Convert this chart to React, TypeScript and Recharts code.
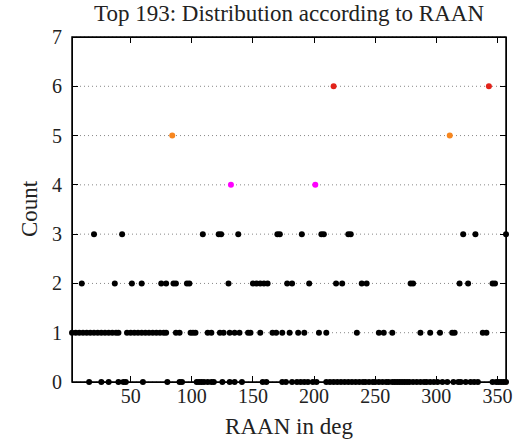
import React from 'react';
import { ScatterChart, Scatter, XAxis, YAxis, CartesianGrid, ReferenceArea } from 'recharts';

// RAAN (deg) of each satellite, grouped by its count value
const count0 = [
  16, 26, 32, 40, 44, 46, 60, 80, 90, 92, 104, 106, 108, 110, 113, 116, 118, 125, 131, 135,
  141, 158, 161, 174, 177, 182, 186, 189, 192, 195, 199, 202, 210, 213, 216, 219, 222, 225,
  228, 231, 234, 237, 240, 242, 245, 248, 250, 253, 256, 259, 261, 264, 266, 268, 270, 272,
  274, 276, 278, 281, 284, 287, 290, 292, 295, 298, 301, 305, 309, 314, 318, 320, 324, 328,
  331, 334, 346, 349, 351, 353, 355, 357,
];
const count1 = [
  2, 5, 8, 11, 14, 17, 20, 23, 26, 29, 32, 35, 38, 40, 47, 50, 53, 56, 59, 62, 65, 68, 71,
  74, 77, 79, 87, 90, 99, 101, 103, 113, 116, 123, 126, 131, 135, 139, 146, 148, 156, 166,
  169, 174, 180, 187, 192, 204, 210, 235, 253, 257, 264, 287, 295, 303, 313, 315, 338, 341,
];
const count2 = [
  10, 37, 51, 59, 75, 79, 85, 87, 96, 98, 130, 150, 153, 156, 159, 162, 178, 182, 196, 218,
  223, 239, 243, 279, 281, 319, 326, 346, 348,
];
const count3 = [20, 43, 109, 122, 124, 138, 170, 172, 190, 206, 208, 228, 230, 322, 332, 357];
const count4 = [132, 201];
const count5 = [84, 311];
const count6 = [216, 343];

const xTicks = [50, 100, 150, 200, 250, 300, 350];
const yTicks = [0, 1, 2, 3, 4, 5, 6, 7];

const toPoints = (xs: number[], c: number) => xs.map((raan) => ({ raan, count: c }));

const black = [
  ...toPoints(count0, 0),
  ...toPoints(count1, 1),
  ...toPoints(count2, 2),
  ...toPoints(count3, 3),
];

const FONT = '"Liberation Serif", "Times New Roman", serif';
const TXT = '#222';
const PLOT_LEFT = 72;
const PLOT_TOP = 37;
const PLOT_RIGHT = 506;
const PLOT_BOTTOM = 382;
const TICK = 6;

// inward ticks on bottom + top edge, label below
const BottomTick = (p: any) => (
  <g>
    <line x1={p.x} x2={p.x} y1={p.y} y2={p.y - TICK} stroke="#000" strokeWidth={1} shapeRendering="crispEdges" />
    <line x1={p.x} x2={p.x} y1={PLOT_TOP} y2={PLOT_TOP + TICK} stroke="#000" strokeWidth={1} shapeRendering="crispEdges" />
    <text x={p.x} y={p.y + 21} textAnchor="middle" fontFamily={FONT} fontSize={20} fill={TXT}>
      {p.payload.value}
    </text>
  </g>
);

// inward ticks on left + right edge, label to the left
const LeftTick = (p: any) => (
  <g>
    <line x1={p.x} x2={p.x + TICK} y1={p.y} y2={p.y} stroke="#000" strokeWidth={1} shapeRendering="crispEdges" />
    <line x1={PLOT_RIGHT} x2={PLOT_RIGHT - TICK} y1={p.y} y2={p.y} stroke="#000" strokeWidth={1} shapeRendering="crispEdges" />
    <text x={p.x - 10} y={p.y + 7} textAnchor="end" fontFamily={FONT} fontSize={20} fill={TXT}>
      {p.payload.value}
    </text>
  </g>
);

const dot = (color: string) => (props: any) => (
  <circle cx={props.cx} cy={props.cy} r={3} fill={color} />
);

const App: React.FC = () => {
  return (
    <div style={{ position: 'relative', width: 528, height: 441, background: '#fff' }}>
      <style>{'body{margin:0}'}</style>
      <div
        style={{
          position: 'absolute',
          top: 0,
          left: PLOT_LEFT,
          width: PLOT_RIGHT - PLOT_LEFT,
          textAlign: 'center',
          fontFamily: FONT,
          fontSize: 23,
          color: TXT,
          lineHeight: '28px',
          whiteSpace: 'nowrap',
        }}
      >
        Top 193: Distribution according to RAAN
      </div>
      <div
        style={{
          position: 'absolute',
          left: 30,
          top: 209,
          transform: 'translate(-50%, -50%) rotate(-90deg)',
          fontFamily: FONT,
          fontSize: 23,
          color: TXT,
          whiteSpace: 'nowrap',
        }}
      >
        Count
      </div>
      <div
        style={{
          position: 'absolute',
          left: PLOT_LEFT,
          width: PLOT_RIGHT - PLOT_LEFT,
          top: 413,
          textAlign: 'center',
          fontFamily: FONT,
          fontSize: 23,
          color: TXT,
          lineHeight: '28px',
        }}
      >
        RAAN in deg
      </div>
      <ScatterChart width={528} height={441} margin={{ top: PLOT_TOP, right: 528 - PLOT_RIGHT, bottom: 0, left: 0 }}>
        <CartesianGrid horizontal vertical={false} stroke="#888" strokeDasharray="1 3" />
        <XAxis
          type="number"
          dataKey="raan"
          domain={[2, 357]}
          ticks={xTicks}
          height={441 - PLOT_BOTTOM}
          tickSize={0}
          tickMargin={0}
          tickLine={false}
          axisLine={false}
          tick={BottomTick}
        />
        <YAxis
          type="number"
          dataKey="count"
          domain={[0, 7]}
          ticks={yTicks}
          width={PLOT_LEFT}
          tickSize={0}
          tickMargin={0}
          tickLine={false}
          axisLine={false}
          tick={LeftTick}
        />
        <ReferenceArea x1={2} x2={357} y1={0} y2={7} fill="none" fillOpacity={0} stroke="#000" strokeWidth={1.5} ifOverflow="visible" />
        <Scatter data={black} shape={dot('#000')} isAnimationActive={false} />
        <Scatter data={toPoints(count4, 4)} shape={dot('#ff00ff')} isAnimationActive={false} />
        <Scatter data={toPoints(count5, 5)} shape={dot('#f7861e')} isAnimationActive={false} />
        <Scatter data={toPoints(count6, 6)} shape={dot('#e2231a')} isAnimationActive={false} />
      </ScatterChart>
      {/* plot box */}
      <div
        style={{
          position: 'absolute',
          left: PLOT_LEFT - 0.5,
          top: PLOT_TOP - 0.5,
          width: PLOT_RIGHT - PLOT_LEFT + 1,
          height: PLOT_BOTTOM - PLOT_TOP + 1,
          border: '1px solid #000',
          boxSizing: 'border-box',
          pointerEvents: 'none',
        }}
      />
    </div>
  );
};

export default App;
